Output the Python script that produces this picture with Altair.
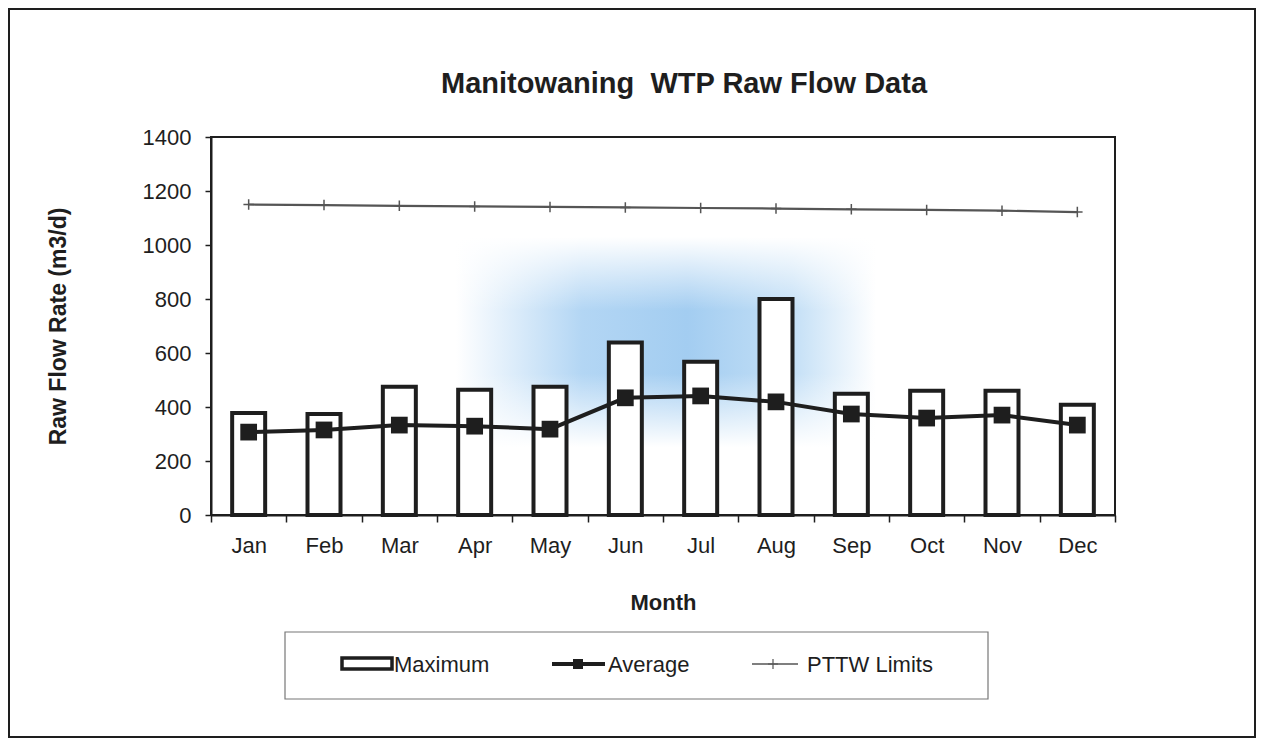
import altair as alt
import pandas as pd

months = ["Jan", "Feb", "Mar", "Apr", "May", "Jun", "Jul", "Aug", "Sep", "Oct", "Nov", "Dec"]
maximum = [378, 374, 475, 464, 475, 639, 568, 800, 449, 460, 460, 408]
average = [307, 315, 333, 329, 318, 434, 441, 419, 374, 359, 370, 333]
pttw = [1150, 1148, 1145, 1143, 1141, 1139, 1137, 1135, 1132, 1130, 1127, 1122]

title_text = "Manitowaning\u00a0 WTP Raw Flow Data"
legend_labels = ["Maximum", "Average", "PTTW Limits"]

df = pd.DataFrame({"Month": months, "Maximum": maximum, "Average": average, "PTTW": pttw})

FONT = "Liberation Sans"
INK = "#1e1e1e"
W, H = 904, 378
FS = 22

x_enc = alt.X("Month:N", sort=months,
              scale=alt.Scale(paddingInner=0, paddingOuter=0),
              axis=alt.Axis(title="Month", labelAngle=0, tickBand="extent",
                            labelFontSize=FS, titleFontSize=FS, titleFontWeight="bold",
                            tickSize=7, labelPadding=13, titlePadding=36,
                            domainColor=INK, domainWidth=2, tickColor=INK,
                            tickWidth=1.5, labelColor=INK, titleColor=INK))
y_scale = alt.Scale(domain=[0, 1400], nice=False)
y_axis = alt.Axis(title="Raw Flow Rate (m3/d)", values=list(range(0, 1401, 200)), format="d",
                  labelFontSize=FS, titleFontSize=FS + 1, titleFontWeight="bold",
                  tickSize=6, labelPadding=14, titlePadding=72, grid=False,
                  domainColor=INK, domainWidth=2, tickColor=INK, tickWidth=1.5,
                  labelColor=INK, titleColor=INK)

base = alt.Chart(df)

one = pd.DataFrame({"a": [0]})

# faint blue scan smudge behind the bars (horizontal blue band faded vertically by a white overlay)
SX1, SX2, SY1, SY2 = 245, 665, 100, 310
smudge_blue = alt.Chart(one).mark_rect(
    color=alt.Gradient(gradient="linear", x1=0, y1=0, x2=1, y2=0,
                       stops=[alt.GradientStop(offset=0, color="#ffffff"),
                              alt.GradientStop(offset=0.3, color="#b3d6f4"),
                              alt.GradientStop(offset=0.55, color="#a3cdf1"),
                              alt.GradientStop(offset=0.8, color="#c3dff6"),
                              alt.GradientStop(offset=1, color="#ffffff")])
).encode(x=alt.value(SX1), x2=alt.value(SX2), y=alt.value(SY1), y2=alt.value(SY2))
smudge_fade = alt.Chart(one).mark_rect(
    color=alt.Gradient(gradient="linear", x1=0, y1=0, x2=0, y2=1,
                       stops=[alt.GradientStop(offset=0, color="rgba(255,255,255,1)"),
                              alt.GradientStop(offset=0.35, color="rgba(255,255,255,0)"),
                              alt.GradientStop(offset=0.65, color="rgba(255,255,255,0)"),
                              alt.GradientStop(offset=1, color="rgba(255,255,255,1)")])
).encode(x=alt.value(SX1), x2=alt.value(SX2), y=alt.value(SY1), y2=alt.value(SY2))

plot_frame = alt.Chart(one).mark_rect(fill=None, stroke=INK, strokeWidth=2).encode(
    x=alt.value(0), x2=alt.value(W), y=alt.value(0), y2=alt.value(H))

bars = base.mark_bar(width=33, fill="white", stroke=INK, strokeWidth=4).encode(
    x=x_enc, y=alt.Y("Maximum:Q", scale=y_scale, axis=y_axis))

avg_line = base.mark_line(color=INK, strokeWidth=4).encode(
    x=alt.X("Month:N", sort=months), y=alt.Y("Average:Q", scale=y_scale))
avg_pts = base.mark_point(shape="square", filled=True, color=INK, size=280, opacity=1).encode(
    x=alt.X("Month:N", sort=months), y=alt.Y("Average:Q", scale=y_scale))

cross = "M0,-1L0,1M-1,0L1,0"
pt_line = base.mark_line(color="#555555", strokeWidth=2.2).encode(
    x=alt.X("Month:N", sort=months), y=alt.Y("PTTW:Q", scale=y_scale))
pt_pts = base.mark_point(shape=cross, filled=False, color="#555555", size=110, strokeWidth=1.5, opacity=1).encode(
    x=alt.X("Month:N", sort=months), y=alt.Y("PTTW:Q", scale=y_scale))

# chart title
title = alt.Chart(pd.DataFrame({"t": [title_text]})).mark_text(
    fontSize=29, fontWeight="bold", font=FONT, color=INK, align="center", baseline="middle"
).encode(x=alt.value(473), y=alt.value(-53), text="t:N")

# outer frame
frame = alt.Chart(one).mark_rect(fill=None, stroke=INK, strokeWidth=2).encode(
    x=alt.value(-202), x2=alt.value(1044), y=alt.value(-128), y2=alt.value(600))
# legend
lbox = alt.Chart(one).mark_rect(fill="white", stroke="#777", strokeWidth=1.2).encode(
    x=alt.value(74), x2=alt.value(777), y=alt.value(495), y2=alt.value(562))
l_max = alt.Chart(one).mark_rect(fill="white", stroke=INK, strokeWidth=3.5).encode(
    x=alt.value(131), x2=alt.value(181), y=alt.value(521), y2=alt.value(532))
l_avg = alt.Chart(one).mark_rule(color=INK, strokeWidth=4).encode(
    x=alt.value(341), x2=alt.value(394), y=alt.value(527))
l_avg_pt = alt.Chart(one).mark_point(shape="square", filled=True, color=INK, size=100, opacity=1).encode(
    x=alt.value(367), y=alt.value(527))
l_pt = alt.Chart(one).mark_rule(color="#555555", strokeWidth=1.5).encode(
    x=alt.value(541), x2=alt.value(587), y=alt.value(527))
l_pt_pt = alt.Chart(one).mark_point(shape=cross, filled=False, color="#555555", size=100, strokeWidth=1.2, opacity=1).encode(
    x=alt.value(562), y=alt.value(527))
labels = pd.DataFrame({"t": legend_labels, "px": [183, 397, 596]})
l_text = alt.Chart(labels).mark_text(align="left", baseline="middle", fontSize=FS, font=FONT, color=INK).encode(
    x=alt.X("px:Q", scale=None), y=alt.value(528), text="t:N")

chart = alt.layer(frame, smudge_blue, smudge_fade, plot_frame, title, lbox, l_max, l_avg, l_avg_pt,
                  l_pt, l_pt_pt, l_text, bars, pt_line, pt_pts, avg_line, avg_pts).properties(
    width=W, height=H,
    autosize=alt.AutoSizeParams(type="none"),
    padding={"left": 203, "top": 129, "right": 145, "bottom": 225},
).configure_view(stroke=None).configure_axis(
    labelFont=FONT, titleFont=FONT).configure(background="white")

chart.save("out.html", embed_options={"renderer": "svg", "actions": False})
